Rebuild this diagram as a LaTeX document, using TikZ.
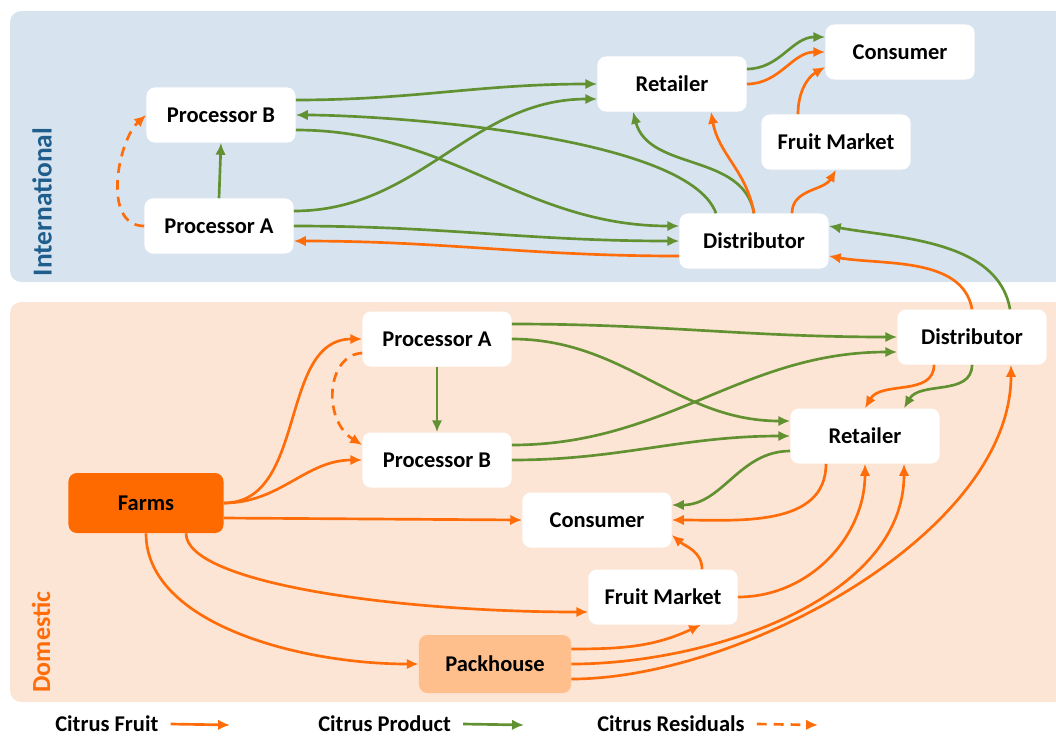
\documentclass[tikz,border=0pt]{standalone}
\usepackage{fontspec}
\setmainfont{Carlito}
\usetikzlibrary{arrows.meta}

\definecolor{fruitorange}{RGB}{255,108,10}
\definecolor{productgreen}{RGB}{98,145,50}
\definecolor{farmfill}{RGB}{255,106,0}
\definecolor{packfill}{RGB}{255,191,140}
\definecolor{domesticbg}{RGB}{253,229,213}
\definecolor{interbg}{RGB}{215,228,239}
\definecolor{interblue}{RGB}{31,94,140}

\tikzset{
  box/.style={rectangle, rounded corners=6pt, fill=white, minimum width=3.725cm, minimum height=1.375cm, font=\bfseries\fontsize{16}{19}\selectfont},
  flow/.style={line width=1.9pt, -{Latex[length=8.5pt,width=7.5pt]}},
  fruit/.style={flow, color=fruitorange},
  product/.style={flow, color=productgreen},
  residual/.style={fruit, dash pattern=on 7pt off 5pt},
  legend/.style={anchor=west, inner sep=0pt, font=\bfseries\fontsize{16}{19}\selectfont},
  region/.style={rotate=90, font=\bfseries\fontsize{19.5}{22}\selectfont},
}

\begin{document}
\begin{tikzpicture}[x=0.025cm, y=-0.025cm]
		\useasboundingbox (0,0) rectangle (1056,738);
		\clip (0,0) rectangle (1056,738);
		% panels
		\fill[interbg, rounded corners=8pt] (10,11) rectangle (1080,282);
		\fill[domesticbg, rounded corners=8pt] (10,302) rectangle (1080,702);
		\node[region, text=interblue] (intl) at (42,202) {International};
		\node[region, text=fruitorange, font=\bfseries\fontsize{18.5}{21}\selectfont] (dom) at (41,642) {Domestic};

		% international
		\node[box] (pbI) at (221,115) {Processor B};
		\node[box] (paI) at (219,226) {Processor A};
		\node[box] (retI) at (672,84) {Retailer};
		\node[box] (conI) at (900,52) {Consumer};
		\node[box] (fmI) at (836,142) {Fruit Market};
		\node[box] (disI) at (754,241) {Distributor};

		% domestic
		\node[box] (paD) at (437,339) {Processor A};
		\node[box] (pbD) at (437,460) {Processor B};
		\node[box, fill=farmfill, minimum width=3.875cm, minimum height=1.5cm] (farms) at (146,503) {Farms};
		\node[box] (conD) at (597,520) {Consumer};
		\node[box] (retD) at (865,436) {Retailer};
		\node[box] (disD) at (972,337) {Distributor};
		\node[box] (fmD) at (663,597) {Fruit Market};
		\node[box, fill=packfill, minimum width=3.8cm, minimum height=1.45cm] (pack) at (495,664) {Packhouse};

		% international flows
		\draw[product] (paI.north) -- (pbI.south);
		\draw[residual] (paI.west) .. controls +(-43,0) and +(-28,25) .. (pbI.west);
		\draw[product] ([yshift=0.375cm]pbI.east) to[out=0,in=180] (retI.west);
		\draw[product] ([xshift=-0.95cm]disI.north) to[out=110,in=0,looseness=0.5] (pbI.east);
		\draw[product] ([yshift=-0.375cm]pbI.east) to[out=0,in=180] ([yshift=0.375cm]disI.west);
		\draw[product] ([yshift=0.375cm]paI.east) to[out=0,in=180] ([yshift=-0.375cm]retI.west);
		\draw[product] (paI.east) to[out=0,in=180] (disI.west);
		\draw[fruit] ([yshift=-0.375cm]disI.west) to[out=180,in=0] ([yshift=-0.375cm]paI.east);
		\draw[product] (disI.north) to[out=100,in=-75] ([xshift=-0.975cm]retI.south);
		\draw[fruit] (disI.north) to[out=100,in=-80] ([xshift=0.975cm]retI.south);
		\draw[fruit] ([xshift=0.95cm]disI.north) to[out=90,in=240] (fmI.south);
		\draw[fruit] ([xshift=-0.95cm]fmI.north) to[out=90,in=210] ([yshift=-0.375cm]conI.west);
		\draw[product] ([yshift=0.375cm]retI.east) to[out=0,in=180] ([yshift=0.375cm]conI.west);
		\draw[fruit] (retI.east) to[out=0,in=180] (conI.west);

		% domestic to international
		\draw[product] ([xshift=0.95cm]disD.north) to[out=100,in=-10,looseness=0.9] ([yshift=0.375cm]disI.east);
		\draw[fruit] (disD.north) to[out=100,in=-10,looseness=0.9] ([yshift=-0.375cm]disI.east);

		% domestic flows
		\draw[fruit] (farms.east) to[out=0,in=180] (paD.west);
		\draw[fruit] (farms.east) to[out=0,in=180] (pbD.west);
		\draw[residual] ([yshift=-0.35cm]paD.west) .. controls +(-36,2) and +(-40,-25) .. ([yshift=0.375cm]pbD.west);
		\draw[product] (paD.south) -- (pbD.north);
		\draw[fruit] ([yshift=-0.375cm]farms.east) -- (conD.west);
		\draw[fruit] ([xshift=1cm]farms.south) .. controls +(0,50) and +(-190,0) .. ([yshift=-0.375cm]fmD.west);
		\draw[fruit] (farms.south) .. controls +(0,90) and +(-120,0) .. (pack.west);
		\draw[product] ([yshift=0.375cm]paD.east) to[out=0,in=180] (disD.west);
		\draw[product] (paD.east) to[out=0,in=180] ([yshift=0.375cm]retD.west);
		\draw[product] ([yshift=0.375cm]pbD.east) to[out=0,in=180] ([yshift=-0.375cm]disD.west);
		\draw[product] (pbD.east) to[out=0,in=180] (retD.west);
		\draw[product] ([yshift=-0.375cm]retD.west) to[out=180,in=0] ([yshift=0.375cm]conD.east);
		\draw[fruit] ([xshift=-0.975cm]retD.south) to[out=-90,in=0] (conD.east);
		\draw[fruit] ([xshift=-0.95cm]disD.south) to[out=-90,in=60] (retD.north);
		\draw[product] (disD.south) to[out=-90,in=60] ([xshift=0.975cm]retD.north);
		\draw[fruit] ([xshift=0.975cm]fmD.north) to[out=90,in=-40] ([yshift=-0.375cm]conD.east);
		\draw[fruit] (fmD.east) to[out=0,in=-90] (retD.south);
		\draw[fruit] ([yshift=0.375cm]pack.east) to[out=0,in=205] ([xshift=0.95cm]fmD.south);
		\draw[fruit] (pack.east) to[out=0,in=-90,looseness=0.9] ([xshift=0.975cm]retD.south);
		\draw[fruit] ([yshift=-0.375cm]pack.east) to[out=0,in=-90,looseness=0.8] ([xshift=0.975cm]disD.south);

		% legend
		\node[legend] (lgFruit) at (55,724) {Citrus Fruit};
		\coordinate (lgFruitEnd) at (230,725);
		\draw[fruit] ([xshift=0.3cm]lgFruit.east) -- (lgFruitEnd);
		\node[legend] (lgProduct) at (318,724) {Citrus Product};
		\coordinate (lgProductEnd) at (524,725);
		\draw[product] ([xshift=0.3cm]lgProduct.east) -- (lgProductEnd);
		\node[legend] (lgResidual) at (597,724) {Citrus Residuals};
		\coordinate (lgResidualEnd) at (818,725);
		\draw[residual] ([xshift=0.3cm]lgResidual.east) -- (lgResidualEnd);
\end{tikzpicture}
\end{document}
